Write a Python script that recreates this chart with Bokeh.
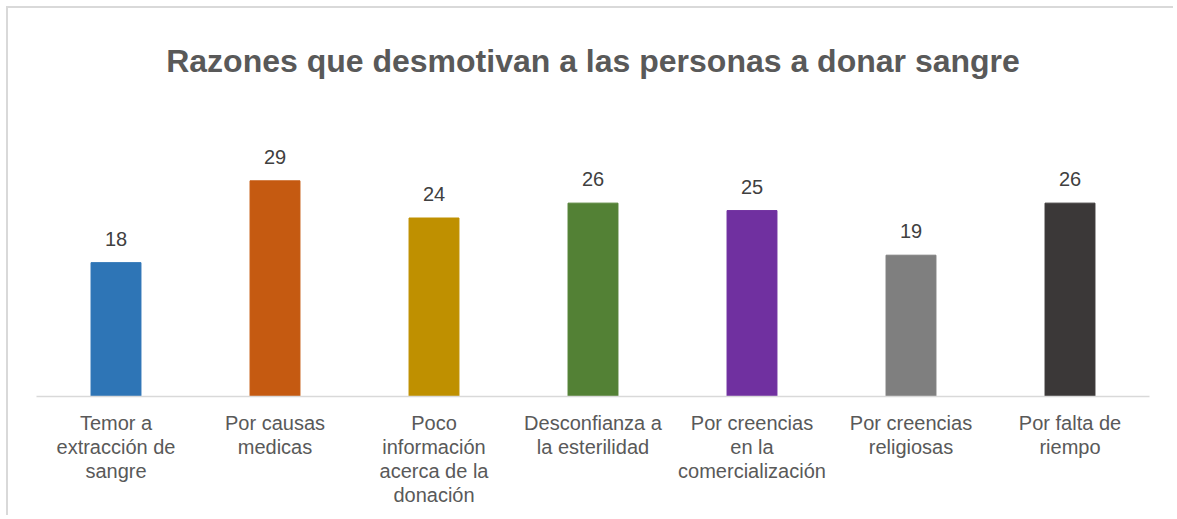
from bokeh.plotting import figure
from bokeh.models import ColumnDataSource, FactorRange, LabelSet, Range1d
from bokeh.core.properties import value
from bokeh.embed import file_html
from bokeh.resources import INLINE

tick_labels = ["Temor a\nextracción de\nsangre", "Por causas\nmedicas",
               "Poco\ninformación\nacerca de la\ndonación", "Desconfianza a\nla esterilidad",
               "Por creencias\nen la\ncomercialización", "Por creencias\nreligiosas",
               "Por falta de\nriempo"]
values = [18, 29, 24, 26, 25, 19, 26]
colors = ["#2E75B6", "#C55A11", "#BF9000", "#538135", "#7030A0", "#7F7F7F", "#3B3838"]

src = ColumnDataSource(dict(cat=tick_labels, val=values, color=colors,
                            lab=[str(v) for v in values]))

p = figure(width=1167, height=509, output_backend="svg", toolbar_location=None,
           x_range=FactorRange(*tick_labels, range_padding=0),
           y_range=Range1d(0, 39.8),
           min_border_left=28, min_border_right=26, min_border_top=92,
           min_border_bottom=121)
p.styles = {"border-top": "2px solid #d9d9d9", "border-left": "2px solid #d9d9d9",
            "margin-top": "6px", "margin-left": "6px"}
p.outline_line_color = None
p.xgrid.visible = False
p.ygrid.visible = False
p.yaxis.visible = False

p.title.text = "Razones que desmotivan a las personas a donar sangre"
p.title.text_font = "Liberation Sans"
p.title.text_font_size = "32px"
p.title.text_font_style = "bold"
p.title.text_color = "#595959"
p.title.align = "center"
p.title.vertical_align = "top"
p.title.standoff = 40

p.vbar(x="cat", top="val", width=0.314, color="color", source=src)

labels = LabelSet(x="cat", y="val", text="lab", source=src, y_offset=17,
                  text_align="center", text_baseline="alphabetic",
                  text_font=value("Liberation Sans"), text_font_size="20px",
                  text_color="#404040")
p.add_layout(labels)

ax = p.xaxis[0]
ax.axis_line_color = "#d9d9d9"
ax.axis_line_width = 1.5
ax.major_tick_line_color = None
ax.minor_tick_line_color = None
ax.major_label_text_font = "Liberation Sans"
ax.major_label_text_font_size = "20px"
ax.major_label_text_color = "#595959"
ax.major_label_text_line_height = 1.1
ax.major_label_standoff = 9

open("out.html", "w").write(file_html(p, INLINE))
